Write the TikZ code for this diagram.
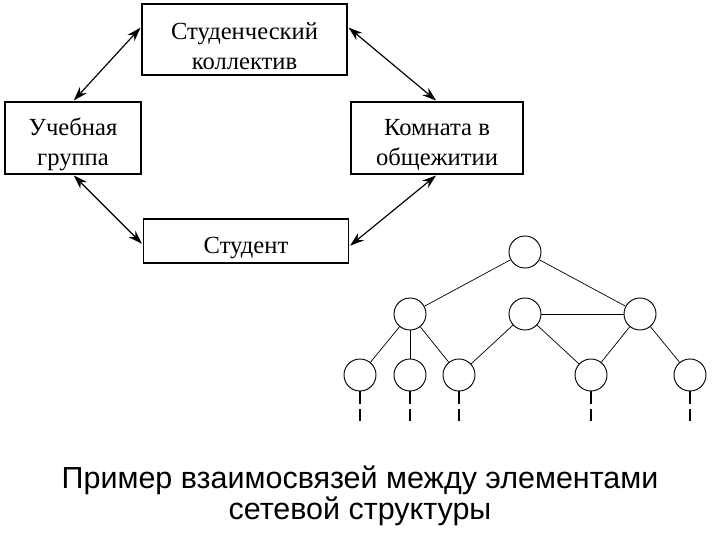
\documentclass[tikz,border=0pt]{standalone}
\usepackage{fontspec}
\setmainfont{Liberation Serif}
\setsansfont{Liberation Sans}
\usetikzlibrary{arrows.meta, positioning}
\definecolor{inkblack}{HTML}{000000}
\tikzset{
  orgbox/.style={rectangle, draw=inkblack, line width=1.2pt, align=center, inner sep=0pt, font=\fontsize{21}{26}\selectfont,
    execute at begin node={\rule{0pt}{#1}}},
  orgbox/.default=26pt,
  link/.style={{Stealth[length=12pt,width=8pt]}-{Stealth[length=12pt,width=8pt]}, line width=1pt, inkblack, shorten <=1pt, shorten >=1pt},
  vertex/.style={circle, draw=inkblack, line width=0.8pt, minimum size=0.96cm, inner sep=0pt},
  tie/.style={line width=0.6pt, inkblack},
  stub/.style={line width=1pt, inkblack, dash pattern=on 11pt off 4.3pt},
}

\begin{document}
\begin{tikzpicture}[x=0.03cm, y=-0.03cm]
  \useasboundingbox (0,0) rectangle (720,540);

  % Organisation boxes
  \node[orgbox=52pt, minimum width=6.15cm, minimum height=2.13cm] (SK) at (244.5,39.5) {Студенческий\\коллектив};
  \node[orgbox=52pt, minimum width=4.08cm, minimum height=2.16cm] (UG) at (73,138) {Учебная\\группа};
  \node[orgbox=52pt, minimum width=5.16cm, minimum height=2.16cm] (KO) at (437,138) {Комната в\\общежитии};
  \node[orgbox, minimum width=6.15cm, minimum height=1.32cm] (ST) at (246,241) {Студент};

  % Two-way links
  \draw[link] (UG.north) -- (SK.173);
  \draw[link] (SK.7) -- (KO.north);
  \draw[link] (UG.south) -- (ST.182);
  \draw[link] (KO.south) -- (ST.-3);

  % Network tree
  \node[vertex] (T0) at (525,252) {};
  \foreach \i/\x in {1/410,2/525,3/640} {
    \node[vertex] (M\i) at (\x,314) {};
  }
  \foreach \i/\x in {1/360,2/410,3/459,4/591,5/690} {
    \node[vertex] (B\i) at (\x,375) {};
    \coordinate (E\i) at (\x,421);
    \draw[stub] (B\i.south) -- (E\i);
  }
  \foreach \a/\b in {T0/M1,T0/M3,M2/M3,M1/B1,M1/B2,M1/B3,M2/B3,M2/B4,M3/B4,M3/B5} {
    \draw[tie] (\a) -- (\b);
  }

  % Caption
  \node[font=\sffamily\fontsize{26}{26.5}\selectfont, align=center] (CAP) at (360,496) {Пример взаимосвязей между элементами\\сетевой структуры};
\end{tikzpicture}
\end{document}
